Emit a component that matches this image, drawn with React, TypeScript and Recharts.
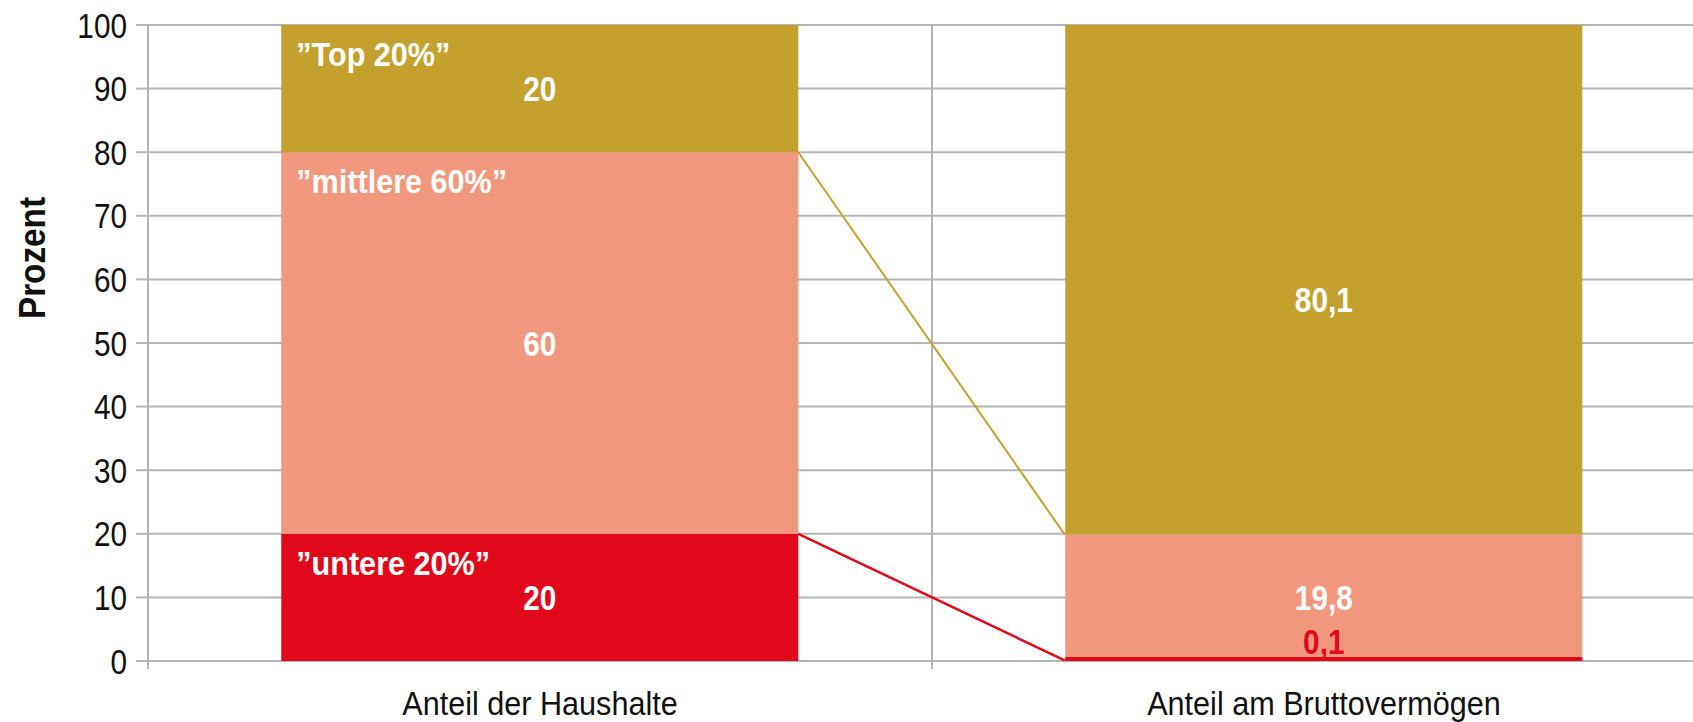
import { BarChart, Bar, XAxis, YAxis, CartesianGrid, LabelList } from 'recharts';

const categories = ['Anteil der Haushalte', 'Anteil am Bruttovermögen'];
const untere = [20, 0.1];
const mittlere = [60, 19.8];
const top = [20, 80.1];
const groupLabels = ['”untere 20%”', '”mittlere 60%”', '”Top 20%”'];
const yTicks = [0, 10, 20, 30, 40, 50, 60, 70, 80, 90, 100];

const GOLD = '#C4A12E';
const SALMON = '#F1987C';
const RED = '#E1081A';
const GRID = '#B4B4B4';
const INK = '#111';
const FONT = '"Liberation Sans", Arial, sans-serif';
const GAP = 0.17;
// the original uses a condensed face; squeeze Liberation Sans horizontally
const NARROW_TEXT = 0.9;
const NARROW_DIGITS = 0.85;

const keys = ['untere', 'mittlere', 'top'];
const colors = [RED, SALMON, GOLD];

const data = categories.map((name, i) => ({
  name,
  untere: untere[i],
  mittlere: mittlere[i],
  top: top[i],
}));

const fmt = (v: number) => String(v).replace('.', ',');

const Narrow = ({ x, y, k, rotate = 0, children, ...rest }: any) => (
  <g transform={`translate(${x},${y}) rotate(${rotate}) scale(${k},1)`}>
    <text x={0} y={0} fontFamily={FONT} {...rest}>
      {children}
    </text>
  </g>
);

// bars are drawn as plain rects; the top series also draws the connector lines
// and the thin red strip at the bottom of the right bar (otherwise hidden under the salmon part)
const segment = (key: string) => (props: any) => {
  const { x, y, width, height, fill } = props;
  const i = props.index ?? categories.indexOf(props.payload?.name);
  const rect = <rect x={x} y={y} width={width} height={Math.max(height, 0)} fill={fill} />;
  if (key !== 'top') return rect;
  const ppu = height / top[i];
  const bottom = y + height + (untere[i] + mittlere[i]) * ppu;
  if (i === 0) {
    const band = width / (1 - 2 * GAP);
    const x1 = x + width;
    const x2 = x + band;
    return (
      <g>
        {rect}
        <line x1={x1} y1={y + height} x2={x2} y2={bottom - (untere[1] + mittlere[1]) * ppu} stroke={GOLD} strokeWidth={2} />
        <line x1={x1} y1={bottom - untere[0] * ppu} x2={x2} y2={bottom - untere[1] * ppu} stroke={RED} strokeWidth={2.5} />
      </g>
    );
  }
  const h = Math.max(untere[i] * ppu, 4);
  return (
    <g>
      {rect}
      <rect x={x} y={bottom - h} width={width} height={h} fill={RED} />
      <Narrow x={x + width / 2} y={bottom - h - 3} k={NARROW_DIGITS} textAnchor="middle" fill={RED} fontSize={35} fontWeight="bold">
        {fmt(untere[i])}
      </Narrow>
    </g>
  );
};

const segmentLabel = (s: number) => (props: any) => {
  const vb = props.viewBox ?? props;
  const { x, y, width, height } = vb;
  const i = props.index;
  const value = [untere, mittlere, top][s][i];
  const out = [];
  if (i === 0) {
    out.push(
      <Narrow key="g" x={x + 15} y={y + 41} k={NARROW_TEXT} fill="#fff" fontSize={34} fontWeight="bold">
        {groupLabels[s]}
      </Narrow>
    );
  }
  // the tiny 0,1 value is written by the top series, above everything
  if (!(s === 0 && i === 1)) {
    const cy = y + height / 2 + (s === 2 && i === 1 ? 20 : 0);
    out.push(
      <Narrow key="v" x={x + width / 2} y={cy} k={NARROW_DIGITS} dy="0.36em" textAnchor="middle" fill="#fff" fontSize={35} fontWeight="bold">
        {fmt(value)}
      </Narrow>
    );
  }
  return <g>{out}</g>;
};

const CategoryTick = (props: any) => {
  const { x, y, payload } = props;
  const edge = x - (payload.offset ?? 0);
  return (
    <g>
      <line x1={edge} x2={edge} y1={y} y2={y + 8} stroke={GRID} strokeWidth={2} />
      <Narrow x={x} y={y + 54} k={NARROW_TEXT} textAnchor="middle" fill={INK} fontSize={34}>
        {payload.value}
      </Narrow>
    </g>
  );
};

const ValueTick = (props: any) => {
  const { x, y, payload } = props;
  return (
    <Narrow x={x} y={y} k={NARROW_DIGITS} dy="0.36em" textAnchor="end" fill={INK} fontSize={35}>
      {payload.value}
    </Narrow>
  );
};

const ProzentLabel = (props: any) => {
  const vb = props.viewBox;
  return (
    <Narrow x={vb.x + 45} y={vb.y + 233} rotate={-90} k={NARROW_TEXT} textAnchor="middle" fill={INK} fontSize={37} fontWeight="bold">
      Prozent
    </Narrow>
  );
};

export default function App() {
  return (
    <div
      style={{
        position: 'absolute',
        left: 0,
        top: 0,
        width: 1693,
        height: 722,
        overflow: 'hidden',
        background: '#fff',
        fontFamily: FONT,
      }}
    >
      <BarChart
        width={1716}
        height={722}
        data={data}
        margin={{ top: 25, right: 0, bottom: 0, left: 0 }}
        barCategoryGap={`${GAP * 100}%`}
        style={{ fontFamily: FONT }}
      >
        <CartesianGrid
          stroke={GRID}
          strokeWidth={2}
          verticalCoordinatesGenerator={({ offset }: any) => [offset.left + offset.width / 2]}
        />
        <XAxis
          dataKey="name"
          height={61}
          axisLine={false}
          tickLine={false}
          tickSize={0}
          tickMargin={0}
          interval={0}
          tick={<CategoryTick />}
        />
        <YAxis
          domain={[0, 100]}
          ticks={yTicks}
          width={148}
          tickSize={12}
          tickMargin={9}
          axisLine={{ stroke: GRID, strokeWidth: 2 }}
          tickLine={{ stroke: GRID, strokeWidth: 2 }}
          tick={<ValueTick />}
          label={{ value: 'Prozent', content: ProzentLabel }}
        />
        {keys.map((k, s) => (
          <Bar key={k} dataKey={k} stackId="a" fill={colors[s]} isAnimationActive={false} shape={segment(k)}>
            <LabelList dataKey={k} content={segmentLabel(s)} />
          </Bar>
        ))}
      </BarChart>
    </div>
  );
}
